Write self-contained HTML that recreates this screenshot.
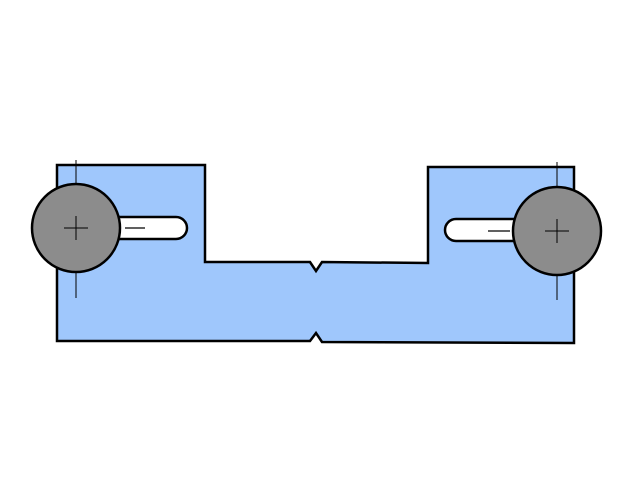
<!DOCTYPE html>
<html><head><style>html,body{margin:0;padding:0;background:#fff}svg{display:block}</style></head>
<body>
<svg width="634" height="498" viewBox="0 0 634 498" xmlns="http://www.w3.org/2000/svg">
<path d="M57,165 L205,165 L205,262 L310,262 L316,271 L322,262 L428,263 L428,167 L574,167 L574,343 L322,342 L316,333 L310,341 L57,341 Z" fill="#9fc7fc" stroke="#000" stroke-width="2.5" stroke-linejoin="miter"/>
<path d="M118,217 L176,217 A11,11 0 0 1 176,239 L118,239 Z" fill="#fff" stroke="#000" stroke-width="2.5"/>
<path d="M520,219 L456,219 A11,11 0 0 0 456,241 L520,241 Z" fill="#fff" stroke="#000" stroke-width="2.5"/>
<line x1="125" y1="228" x2="145" y2="228" stroke="#000" stroke-width="1.2"/>
<line x1="488" y1="231" x2="510" y2="231" stroke="#000" stroke-width="1.2"/>
<circle cx="76" cy="228" r="44" fill="#8c8c8c" stroke="#000" stroke-width="2.5"/>
<circle cx="557" cy="231" r="44" fill="#8c8c8c" stroke="#000" stroke-width="2.5"/>
<g stroke="#000" stroke-width="1">
<line x1="76" y1="160" x2="76" y2="184"/><line x1="76" y1="272" x2="76" y2="298"/>
<line x1="64" y1="228" x2="88" y2="228"/><line x1="76" y1="216" x2="76" y2="240"/>
<line x1="557" y1="162" x2="557" y2="187"/><line x1="557" y1="275" x2="557" y2="300"/>
<line x1="545" y1="231" x2="569" y2="231"/><line x1="557" y1="219" x2="557" y2="243"/>
</g>
</svg>
</body></html>
